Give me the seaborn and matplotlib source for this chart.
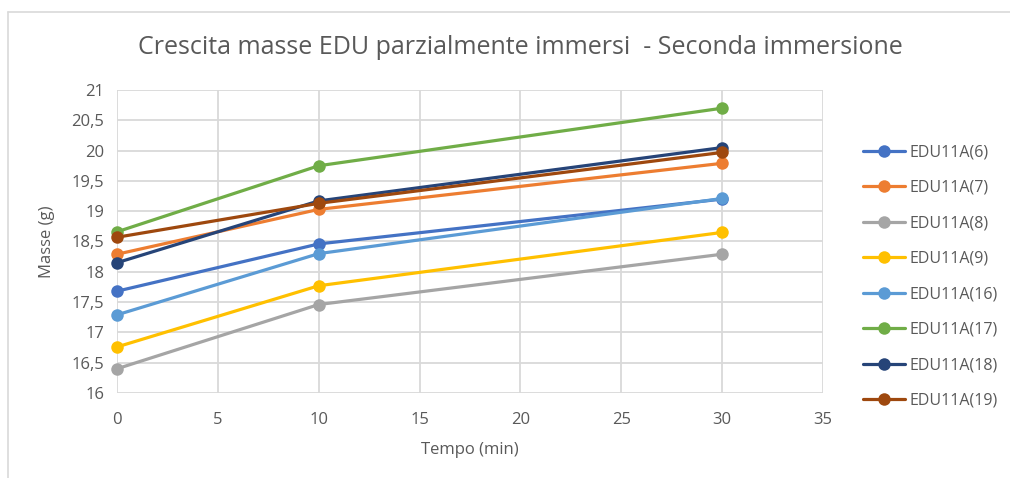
import matplotlib
matplotlib.use("Agg")
import matplotlib.pyplot as plt
import seaborn as sns
import pandas as pd
from matplotlib.ticker import FuncFormatter, MultipleLocator
from matplotlib.lines import Line2D

times = [0, 10, 30]
series_names = ["EDU11A(6)", "EDU11A(7)", "EDU11A(8)", "EDU11A(9)",
                "EDU11A(16)", "EDU11A(17)", "EDU11A(18)", "EDU11A(19)"]
edu6 = [17.68, 18.46, 19.20]
edu7 = [18.29, 19.03, 19.79]
edu8 = [16.40, 17.46, 18.29]
edu9 = [16.76, 17.77, 18.65]
edu16 = [17.29, 18.30, 19.21]
edu17 = [18.66, 19.75, 20.70]
edu18 = [18.15, 19.17, 20.05]
edu19 = [18.57, 19.13, 19.97]
colors = ["#4472C4", "#ED7D31", "#A5A5A5", "#FFC000",
          "#5B9BD5", "#70AD47", "#264478", "#9E480E"]

all_vals = [edu6, edu7, edu8, edu9, edu16, edu17, edu18, edu19]
rows = []
for name, vals in zip(series_names, all_vals):
    for t, v in zip(times, vals):
        rows.append({"Tempo": t, "Massa": v, "Serie": name})
df = pd.DataFrame(rows)

sns.set_style("white")
plt.rcParams["font.family"] = ["Open Sans", "DejaVu Sans"]

fig = plt.figure(figsize=(10.10, 4.78), dpi=100)
ax = fig.add_axes([117/1010, 1-393/478, (823-117)/1010, (393-90)/478])

sns.lineplot(data=df, x="Tempo", y="Massa", hue="Serie", hue_order=series_names,
             palette=colors, marker="o", markersize=9, markeredgewidth=0,
             linewidth=2.3, ax=ax, legend=False, sort=False)

ax.set_xlim(0, 35)
ax.set_ylim(16, 21)
ax.xaxis.set_major_locator(MultipleLocator(5))
ax.yaxis.set_major_locator(MultipleLocator(0.5))
ax.yaxis.set_major_formatter(FuncFormatter(lambda v, p: (f"{v:g}").replace(".", ",")))
ax.grid(True, color="#D9D9D9", linewidth=1.3)
ax.set_axisbelow(True)
for s in ax.spines.values():
    s.set_visible(False)
ax.tick_params(axis="both", length=0, labelsize=12, labelcolor="#595959")
ax.tick_params(axis="x", pad=14)
ax.tick_params(axis="y", pad=9)
for m in ax.lines:
    m.set_clip_on(False)

ax.set_xlabel("Tempo (min)", fontsize=12, color="#595959", labelpad=10)
ax.set_ylabel("Masse (g)", fontsize=12, color="#595959", labelpad=12)

fig.text(520/1010, 1-47/478, "Crescita masse EDU parzialmente immersi  - Seconda immersione",
         ha="center", va="center", fontsize=18, color="#595959")

handles = [Line2D([0], [0], color=c, linewidth=2.3, marker="o", markersize=9,
                  markeredgewidth=0) for c in colors]
fig.legend(handles, series_names, loc="upper left",
           bbox_to_anchor=(857/1010, 1-138/478), frameon=False,
           fontsize=11.5, labelcolor="#595959", handlelength=2.6,
           handletextpad=0.3, labelspacing=1.22, borderaxespad=0)

# outer chart border (left and top edges visible)
fig.add_artist(Line2D([8/1010, 8/1010], [0, 1-12/478], color="#D9D9D9",
                      linewidth=1.2, transform=fig.transFigure))
fig.add_artist(Line2D([8/1010, 1], [1-12/478, 1-12/478], color="#D9D9D9",
                      linewidth=1.2, transform=fig.transFigure))

fig.savefig("out.png", dpi=100)
